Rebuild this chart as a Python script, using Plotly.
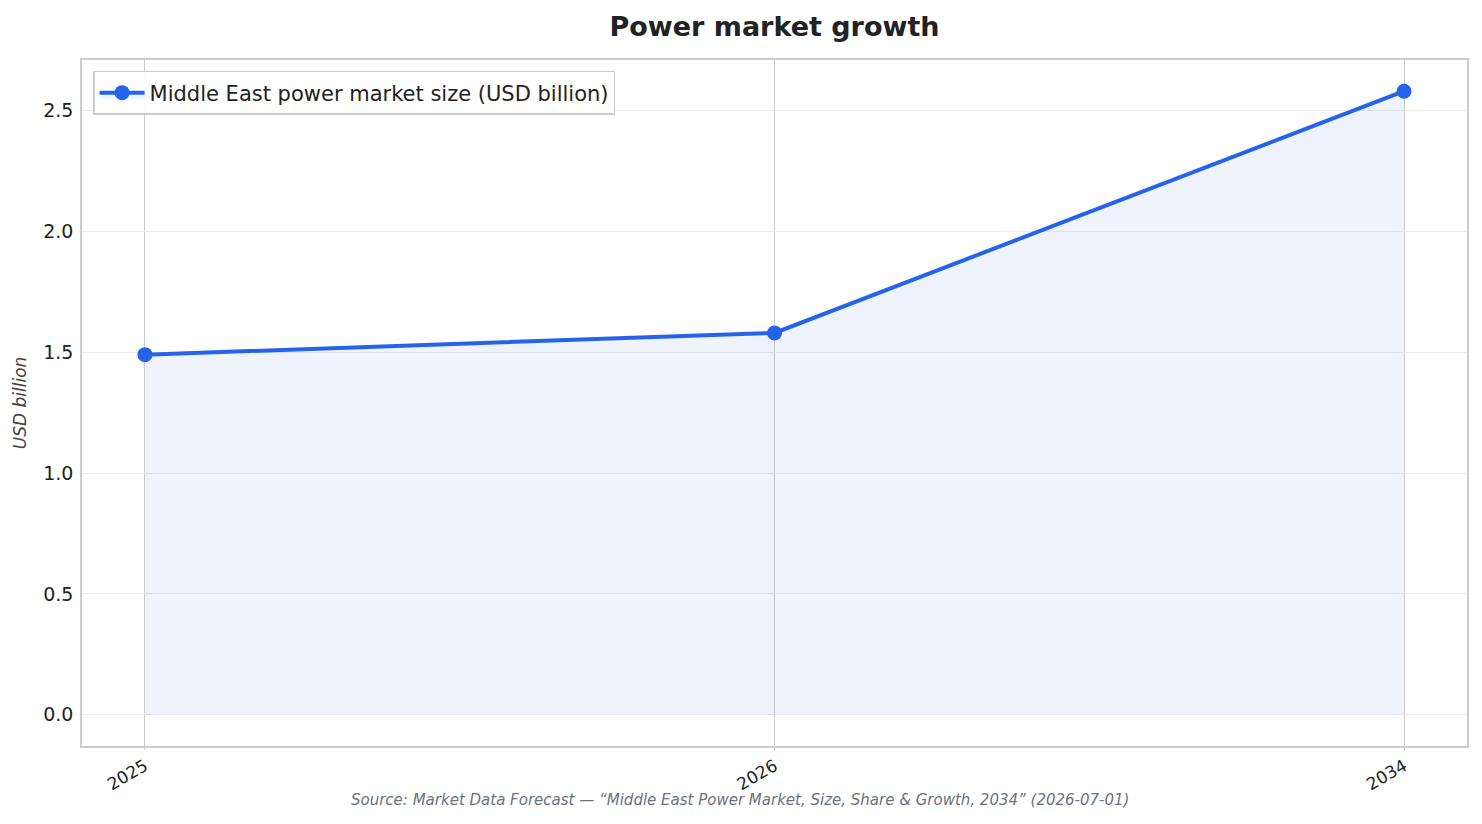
import plotly.graph_objects as go

# Valores
ANIOS = ["2025", "2026", "2034"]
MERCADO_USD_BN = [1.49, 1.58, 2.58]
TICKS_Y = [0.0, 0.5, 1.0, 1.5, 2.0, 2.5]

AZUL = "#2563EB"
FUENTE = "DejaVu Sans"


def construir_figura() -> go.Figure:
    fig = go.Figure()

    fig.add_trace(
        go.Scatter(
            x=ANIOS,
            y=MERCADO_USD_BN,
            mode="lines+markers",
            name="Middle East power market size (USD billion)",
            line=dict(color=AZUL, width=4),
            marker=dict(color=AZUL, size=15),
            fill="tozeroy",
            fillcolor="rgba(37,99,235,0.08)",
        )
    )

    fig.update_xaxes(
        type="category",
        range=[-0.1, 2.1],
        tickangle=-30,
        tickfont=dict(size=17, color="#222222"),
        showgrid=True,
        gridcolor="#CCCCCC",
        gridwidth=1,
        showline=True,
        linecolor="#CCCCCC",
        linewidth=1.5,
        mirror=True,
        ticks="outside",
        ticklen=2,
        tickcolor="#CCCCCC",
        zeroline=False,
    )
    fig.update_yaxes(
        range=[-0.129, 2.709],
        tickvals=TICKS_Y,
        tickformat=".1f",
        tickfont=dict(size=19, color="#222222"),
        title=dict(
            text="<i>USD billion</i>",
            font=dict(size=17, color="#444444"),
            standoff=12,
        ),
        showgrid=True,
        gridcolor="#EBEBEB",
        gridwidth=1,
        showline=True,
        linecolor="#CCCCCC",
        linewidth=1.5,
        mirror=True,
        ticks="outside",
        ticklen=3,
        tickcolor="white",
        zeroline=False,
    )

    fig.update_layout(
        title=dict(
            text="<b>Power market growth</b>",
            x=0.5,
            xref="paper",
            xanchor="center",
            y=0.977,
            yanchor="middle",
            font=dict(size=27, color="#222222"),
        ),
        width=1482,
        height=824,
        margin=dict(l=74, r=23, t=52, b=86),
        font=dict(family=FUENTE, size=17, color="#222222"),
        paper_bgcolor="white",
        plot_bgcolor="white",
        showlegend=True,
        legend=dict(
            x=0.008,
            y=0.984,
            xanchor="left",
            yanchor="top",
            bgcolor="rgba(255,255,255,0.9)",
            bordercolor="#CCCCCC",
            borderwidth=1.5,
            itemwidth=45,
            font=dict(size=21, color="#222222"),
        ),
    )

    fig.add_annotation(
        x=0.475,
        y=-0.079,
        xref="paper",
        yref="paper",
        yanchor="middle",
        text="<i>Source: Market Data Forecast — “Middle East Power Market, Size, Share & Growth, 2034” (2026-07-01)</i>",
        showarrow=False,
        font=dict(size=15, color="#6B7280"),
    )

    return fig


fig = construir_figura()
fig.write_html("out.html")
